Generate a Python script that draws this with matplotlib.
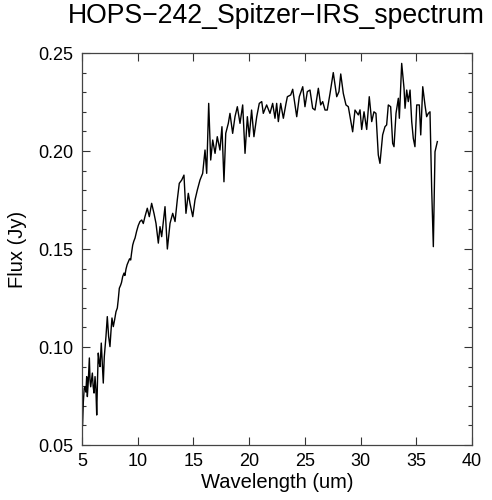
import matplotlib
matplotlib.use("Agg")
import matplotlib.pyplot as plt
from matplotlib.ticker import MultipleLocator

wavelength = [5.05, 5.12, 5.2, 5.27, 5.35, 5.42, 5.48, 5.56, 5.66, 5.72, 5.78, 5.93, 6.0, 6.08,
              6.17, 6.25, 6.32, 6.40, 6.46, 6.55, 6.62, 6.73, 6.82, 6.91, 7.0, 7.15, 7.27, 7.39,
              7.51, 7.60, 7.69, 7.81, 7.93, 8.05, 8.17, 8.25, 8.35, 8.47, 8.55, 8.65, 8.77, 8.85,
              8.95, 9.05, 9.16, 9.27, 9.37, 9.45, 9.55, 9.65, 9.76, 9.9, 10.05, 10.2, 10.36, 10.5,
              10.65, 10.86, 11.04, 11.25, 11.46, 11.64, 11.85, 12.0, 12.15, 12.3, 12.45, 12.66,
              12.9, 13.14, 13.35, 13.55, 13.73, 13.95, 14.15, 14.33, 14.54, 14.69, 14.94, 15.14,
              15.35, 15.59, 15.83, 16.04, 16.19, 16.37, 16.55, 16.73, 16.94, 17.14, 17.38, 17.56,
              17.74, 17.9, 18.13, 18.28, 18.52, 18.73, 18.94, 19.18, 19.42, 19.63, 19.84, 20.01,
              20.22, 20.43, 20.68, 20.91, 21.13, 21.27, 21.57, 21.87, 22.11, 22.32, 22.47, 22.62,
              22.83, 23.07, 23.31, 23.43, 23.73, 23.91, 24.27, 24.5, 24.81, 25.01, 25.22, 25.46,
              25.7, 25.91, 26.21, 26.42, 26.6, 26.81, 27.01, 27.26, 27.55, 27.86, 28.06, 28.22,
              28.45, 28.69, 28.9, 29.29, 29.5, 29.8, 29.95, 30.1, 30.31, 30.55, 30.78, 31.0, 31.2,
              31.38, 31.59, 31.74, 31.98, 32.19, 32.34, 32.49, 32.7, 32.88, 33.0, 33.18, 33.39,
              33.48, 33.69, 33.9, 33.99, 34.14, 34.28, 34.44, 34.59, 34.73, 34.88, 35.04, 35.27,
              35.4, 35.58, 35.78, 35.93, 36.08, 36.23, 36.38, 36.53, 36.68, 36.89]
flux = [0.060, 0.072, 0.079, 0.0797, 0.0770, 0.0849, 0.0747, 0.0820, 0.0944, 0.0830, 0.0797,
        0.0867, 0.0800, 0.0765, 0.0849, 0.0780, 0.0653, 0.0850, 0.0969, 0.0920, 0.0900, 0.1020,
        0.0920, 0.0816, 0.0950, 0.1053, 0.1155, 0.1053, 0.1002, 0.1080, 0.1148, 0.1104, 0.1140,
        0.1180, 0.1199, 0.1240, 0.1300, 0.1316, 0.1330, 0.1359, 0.1377, 0.1365, 0.1398, 0.1420,
        0.1435, 0.1450, 0.1444, 0.1480, 0.1520, 0.1540, 0.1556, 0.1590, 0.1620, 0.1640, 0.1648,
        0.1630, 0.1665, 0.1708, 0.1665, 0.1733, 0.1682, 0.1631, 0.1530, 0.1614, 0.1563, 0.1640,
        0.1716, 0.1500, 0.1631, 0.1682, 0.1640, 0.1750, 0.1835, 0.1852, 0.1877, 0.1682, 0.1784,
        0.1733, 0.1665, 0.1750, 0.1801, 0.1852, 0.1886, 0.2005, 0.1886, 0.2243, 0.1954, 0.2056,
        0.1988, 0.2073, 0.2005, 0.2124, 0.1843, 0.2090, 0.2141, 0.2192, 0.2090, 0.2175, 0.2226,
        0.2141, 0.2235, 0.1988, 0.2175, 0.2073, 0.2209, 0.2073, 0.2175, 0.2243, 0.2252, 0.2192,
        0.2235, 0.2192, 0.2243, 0.2167, 0.2243, 0.2150, 0.2243, 0.2167, 0.2243, 0.2277, 0.2286,
        0.2315, 0.2175, 0.2277, 0.2328, 0.2226, 0.2303, 0.2311, 0.2218, 0.2209, 0.2320, 0.2235,
        0.2252, 0.2209, 0.2209, 0.2294, 0.2400, 0.2277, 0.2303, 0.2393, 0.2294, 0.2235, 0.2226,
        0.2098, 0.2209, 0.2184, 0.2210, 0.2110, 0.2200, 0.2110, 0.2277, 0.2150, 0.2200, 0.2192,
        0.1980, 0.1937, 0.2082, 0.2124, 0.2133, 0.2235, 0.2226, 0.2039, 0.2022, 0.2192, 0.2269,
        0.2167, 0.2447, 0.2320, 0.2218, 0.2311, 0.2252, 0.2311, 0.2150, 0.2065, 0.2022, 0.2235,
        0.2235, 0.2082, 0.2328, 0.2235, 0.2175, 0.2192, 0.2200, 0.1810, 0.1512, 0.1996, 0.2048]

title = "HOPS\u2212242_Spitzer\u2212IRS_spectrum"
x_label = "Wavelength (um)"
y_label = "Flux (Jy)"
x_ticks = [5, 10, 15, 20, 25, 30, 35, 40]
y_ticks = [0.05, 0.10, 0.15, 0.20, 0.25]

plt.rcParams['font.family'] = ['Liberation Sans', 'DejaVu Sans']

fig = plt.figure(figsize=(4.92, 5.00), dpi=100)
ax = fig.add_axes([82/492, 55/500, 390/492, 392/500])
ax.plot(wavelength, flux, color='black', linewidth=1.0)
ax.set_xlim(5, 40)
ax.set_ylim(0.05, 0.25)
ax.set_xticks(x_ticks)
ax.set_xticklabels([str(t) for t in x_ticks])
ax.set_yticks(y_ticks)
ax.set_yticklabels(["%.2f" % t for t in y_ticks])
ax.yaxis.set_minor_locator(MultipleLocator(0.01))
ax.tick_params(which='both', direction='in', top=True, right=True, labelsize=13, width=0.8, color='#333333')
ax.tick_params(which='major', length=6, pad=6)
ax.tick_params(which='minor', length=3)
for s in ax.spines.values():
    s.set_linewidth(0.9)
    s.set_color('#444444')
ax.set_xlabel(x_label, fontsize=14.5, labelpad=2)
ax.set_ylabel(y_label, fontsize=14.5, labelpad=8)

# title: fit to the measured width in the reference (~418 px), centred at x=276
t = fig.text(276/492, 1 - 23/500, title, fontsize=19, ha='center', va='baseline')
fig.canvas.draw()
w = t.get_window_extent(renderer=fig.canvas.get_renderer()).width
t.set_fontsize(19 * 418.0 / w)
fig.savefig("out.png", dpi=100)
